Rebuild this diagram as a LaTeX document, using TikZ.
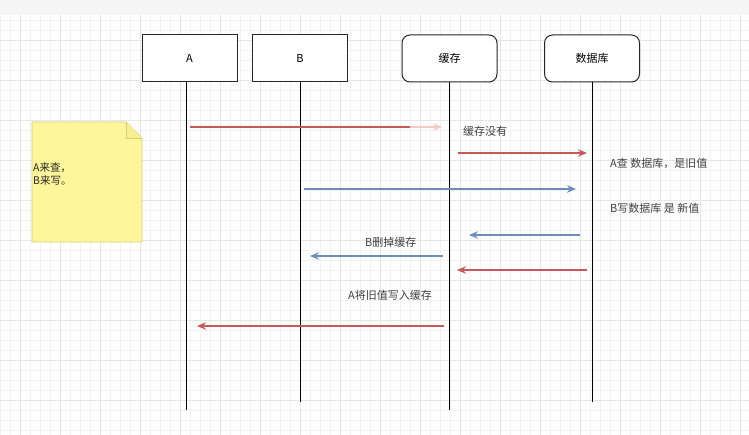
\documentclass[tikz,border=0pt]{standalone}
\usepackage{fontspec}
\setmainfont{Noto Sans CJK SC}
\usetikzlibrary{arrows.meta, positioning}
\definecolor{msgred}{HTML}{C55A58}
\definecolor{msgpink}{HTML}{F2CACA}
\definecolor{msgblue}{HTML}{6C8EBF}
\definecolor{notefill}{HTML}{FFF59A}
\definecolor{noteedge}{HTML}{D8CC78}
\definecolor{gridminor}{HTML}{F2F2F2}
\definecolor{gridmajor}{HTML}{E6E6E6}

\begin{document}
\begin{tikzpicture}[x=1pt, y=-1pt, >=Stealth, font=\fontsize{11}{14}\selectfont]
  \tikzset{
    actor/.style={draw=black!85, fill=white, line width=1pt,
      minimum width=95pt, minimum height=47pt, inner sep=0pt},
    store/.style={actor, rounded corners=8pt},
    life/.style={black, line width=1pt},
    redmsg/.style={msgred, line width=1.4pt,
      -{Stealth[length=9pt, width=7.5pt]}},
    bluemsg/.style={msgblue, line width=1.4pt,
      -{Stealth[length=9pt, width=7.5pt]}},
    tag/.style={text=black!75, anchor=west, inner sep=0pt},
  }
  \useasboundingbox (0,0) rectangle (749,435);
  \fill[black!4] (0,0) rectangle (749,435);
  \fill[white] (0,15) rectangle (749,435);

  % canvas grid
  \foreach \gx in {0,10,...,740} \draw[gridminor] (\gx,15) -- (\gx,435);
  \foreach \gy in {20,30,...,430} \draw[gridminor] (0,\gy) -- (749,\gy);
  \foreach \gx in {20,60,...,740} \draw[gridmajor] (\gx,15) -- (\gx,435);
  \foreach \gy in {40,80,...,430} \draw[gridmajor] (0,\gy) -- (749,\gy);

  % participants
  \node[actor] (A) at (189.5,58.5) {A};
  \node[actor] (B) at (300,58.5) {B};
  \node[store] (cache) at (449.5,58.5) {缓存};
  \node[store] (db) at (592,58.5) {数据库};

  % lifelines
  \coordinate (Aend) at (A.south |- 0,410);
  \coordinate (Bend) at (B.south |- 0,402);
  \coordinate (cacheend) at (cache.south |- 0,410);
  \coordinate (dbend) at (db.south |- 0,402);
  \draw[life] ([xshift=-3.5pt]A.south) -- ([xshift=-3.5pt]Aend);
  \draw[life] (B.south) -- (Bend);
  \draw[life] (cache.south) -- (cacheend);
  \draw[life] (db.south) -- (dbend);

  % note
  \draw[noteedge, fill=notefill, line width=0.8pt]
    (32,122) -- (126,122) -- (142,138) -- (142,242) -- (32,242) -- cycle;
  \draw[noteedge, fill=notefill!80!noteedge, line width=0.8pt]
    (126,122) -- (126,138) -- (142,138);
  \node[tag, align=left, text=black!85, font=\fontsize{10.5}{13}\selectfont]
    (note) at (33,174) {A来查，\\B来写。};

  % messages
  \coordinate (m1s) at (190,127);
  \coordinate (m1f) at (410,127);
  \coordinate (m1e) at (442,127);
  \draw[msgred, line width=1.4pt] (m1s) -- (m1f);
  \draw[redmsg, msgpink] (m1f) -- (m1e);
  \node[tag] (lbl1) at (463,131) {缓存没有};

  \coordinate (m2s) at (458,153);
  \coordinate (m2e) at (587,153);
  \draw[redmsg] (m2s) -- (m2e);
  \node[tag] (lbl2) at (610,163) {A查 数据库，是旧值};

  \coordinate (m3s) at (304,189);
  \coordinate (m3e) at (576,189);
  \draw[bluemsg] (m3s) -- (m3e);
  \node[tag] (lbl3) at (610,208) {B写数据库 是 新值};

  \coordinate (m4s) at (580,235);
  \coordinate (m4e) at (469,235);
  \draw[bluemsg] (m4s) -- (m4e);

  \node[tag] (lbl4) at (365,242) {B删掉缓存};
  \coordinate (m5s) at (443,256);
  \coordinate (m5e) at (310,256);
  \draw[bluemsg] (m5s) -- (m5e);

  \coordinate (m6s) at (587,270);
  \coordinate (m6e) at (457,270);
  \draw[redmsg] (m6s) -- (m6e);

  \node[tag] (lbl5) at (348,295) {A将旧值写入缓存};
  \coordinate (m7s) at (444,326);
  \coordinate (m7e) at (197,326);
  \draw[redmsg] (m7s) -- (m7e);
\end{tikzpicture}
\end{document}
